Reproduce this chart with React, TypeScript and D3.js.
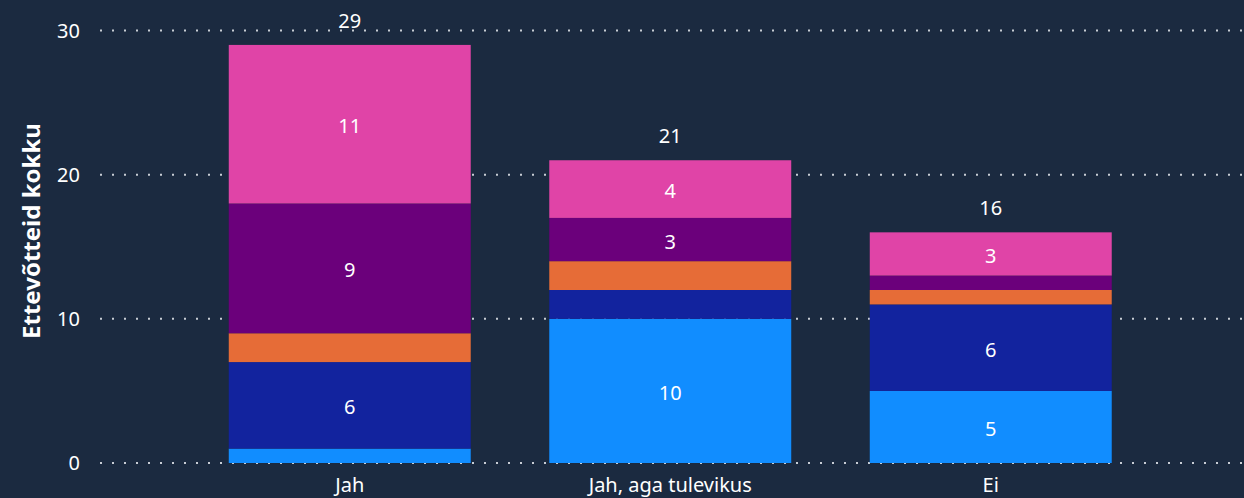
import React from 'react';
import * as d3 from 'd3';

// categories and series (bottom to top of each stack)
const categories = ['Jah', 'Jah, aga tulevikus', 'Ei'];
const seriesNames = ['s1', 's2', 's3', 's4', 's5'];
const s1 = [1, 10, 5];
const s2 = [6, 2, 6];
const s3 = [2, 2, 1];
const s4 = [9, 3, 1];
const s5 = [11, 4, 3];
const yTicks = [0, 10, 20, 30];
const colors = ['#118DFF', '#12239E', '#E66C37', '#6B007B', '#E044A7'];

const W = 1244;
const H = 498;
const FONT = '"Segoe UI", "Noto Sans", "Open Sans", sans-serif';

export default function App() {
  const seriesValues = [s1, s2, s3, s4, s5];
  const rows = categories.map((c, i) => {
    const r: any = { cat: c };
    seriesNames.forEach((s, j) => (r[s] = seriesValues[j][i]));
    return r;
  });
  const stacked = d3.stack<any>().keys(seriesNames)(rows);
  const totals = categories.map((_, i) => d3.sum(seriesValues, v => v[i]));

  const x = d3.scaleBand()
    .domain(categories)
    .range([189.5, 1151])
    .paddingInner(0.245)
    .paddingOuter(0.1225);
  const y = d3.scaleLinear().domain([0, 30]).range([463, 30.5]);

  return (
    <svg width={W} height={H} style={{ position: 'absolute', left: 0, top: 0, background: '#1B2A40' }}
      fontFamily={FONT}>
      <rect width={W} height={H} fill="#1B2A40" />

      {/* gridlines */}
      {yTicks.map(t => (
        <g key={t}>
          <line x1={100} x2={1244} y1={y(t)} y2={y(t)} stroke="#C8CDD4" strokeWidth={2}
            strokeDasharray="2 10" />
          <text x={80} y={y(t)} dy="0.35em" textAnchor="end" fill="#FFFFFF" fontSize={20}>{t}</text>
        </g>
      ))}

      {/* bars */}
      {stacked.map((layer, j) => (
        <g key={layer.key} fill={colors[j]}>
          {layer.map((d, i) => (
            <rect key={i} x={x(categories[i])} width={x.bandwidth()}
              y={y(d[1])} height={y(d[0]) - y(d[1])} />
          ))}
        </g>
      ))}

      {/* segment labels */}
      {stacked.map((layer, j) => (
        <g key={'l' + layer.key}>
          {layer.map((d, i) => {
            const v = d[1] - d[0];
            if (v < 3) return null;
            return (
              <text key={i} x={(x(categories[i]) as number) + x.bandwidth() / 2}
                y={(y(d[0]) + y(d[1])) / 2} dy="0.45em" textAnchor="middle"
                fill="#FFFFFF" fontSize={20}>{v}</text>
            );
          })}
        </g>
      ))}

      {/* totals */}
      {categories.map((c, i) => (
        <text key={c} x={(x(c) as number) + x.bandwidth() / 2} y={y(totals[i]) - 17}
          textAnchor="middle" fill="#FFFFFF" fontSize={20}>{totals[i]}</text>
      ))}

      {/* category labels */}
      {categories.map(c => (
        <text key={'c' + c} x={(x(c) as number) + x.bandwidth() / 2} y={492}
          textAnchor="middle" fill="#FFFFFF" fontSize={20}>{c}</text>
      ))}

      {/* axis title */}
      <text transform={`translate(40,231) rotate(-90)`} textAnchor="middle" fill="#FFFFFF"
        fontSize={24} fontWeight="bold">Ettevõtteid kokku</text>
    </svg>
  );
}
